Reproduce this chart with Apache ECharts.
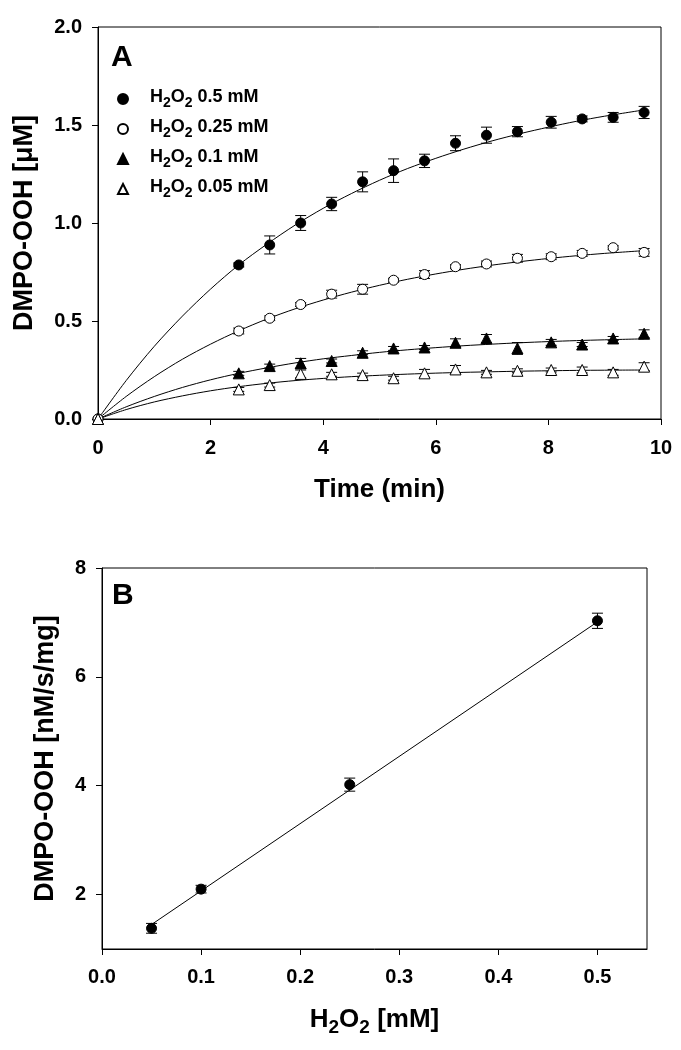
<!DOCTYPE html>
<html><head><meta charset="utf-8">
<script src="https://cdn.jsdelivr.net/npm/echarts@6/dist/echarts.min.js"></script>
<style>html,body{margin:0;padding:0;background:#fff}#c{width:681px;height:1050px}</style>
</head><body><div id="c"></div>
<script>
// ---------- Panel A data ----------
const timeMin = [0, 2.5, 3.05, 3.6, 4.15, 4.7, 5.25, 5.8, 6.35, 6.9, 7.45, 8.05, 8.6, 9.15, 9.7];
const h2o2_050 = [0, 0.786, 0.888, 1.000, 1.097, 1.210, 1.267, 1.317, 1.407, 1.448, 1.466, 1.514, 1.531, 1.539, 1.564];
const err_050  = [0, 0.010, 0.046, 0.038, 0.034, 0.051, 0.060, 0.034, 0.038, 0.041, 0.026, 0.030, 0.015, 0.025, 0.031];
const h2o2_025 = [0, 0.449, 0.514, 0.584, 0.637, 0.662, 0.708, 0.737, 0.777, 0.791, 0.820, 0.828, 0.845, 0.874, 0.850];
const err_025  = [0, 0.015, 0.012, 0.010, 0.020, 0.025, 0.010, 0.020, 0.010, 0.015, 0.020, 0.015, 0.015, 0.010, 0.020];
const h2o2_010 = [0, 0.233, 0.270, 0.284, 0.296, 0.338, 0.360, 0.365, 0.389, 0.411, 0.360, 0.391, 0.380, 0.411, 0.435];
const err_010  = [0, 0.010, 0.010, 0.025, 0.010, 0.010, 0.010, 0.010, 0.020, 0.020, 0.030, 0.015, 0.010, 0.010, 0.020];
const h2o2_005 = [0, 0.151, 0.173, 0.230, 0.228, 0.224, 0.208, 0.233, 0.253, 0.238, 0.246, 0.250, 0.250, 0.238, 0.267];
const err_005  = [0, 0.010, 0.010, 0.020, 0.010, 0.010, 0.010, 0.020, 0.020, 0.010, 0.010, 0.010, 0.015, 0.015, 0.020];
// fitted curves
const fitTime = [0, 0.5, 1, 1.5, 2, 2.5, 3, 3.5, 4, 4.5, 5, 5.5, 6, 6.5, 7, 7.5, 8, 8.5, 9, 9.7];
const fit_050 = [0, 0.196, 0.371, 0.525, 0.663, 0.786, 0.892, 0.989, 1.075, 1.150, 1.218, 1.278, 1.330, 1.377, 1.419, 1.456, 1.489, 1.519, 1.545, 1.577];
const fit_025 = [0, 0.115, 0.216, 0.305, 0.382, 0.450, 0.510, 0.562, 0.607, 0.647, 0.682, 0.713, 0.740, 0.764, 0.785, 0.803, 0.819, 0.833, 0.845, 0.859];
const fit_010 = [0, 0.062, 0.115, 0.161, 0.200, 0.233, 0.261, 0.286, 0.307, 0.324, 0.340, 0.353, 0.364, 0.374, 0.382, 0.389, 0.395, 0.400, 0.404, 0.409];
const fit_005 = [0, 0.048, 0.087, 0.118, 0.144, 0.165, 0.182, 0.196, 0.207, 0.216, 0.223, 0.229, 0.234, 0.238, 0.241, 0.244, 0.246, 0.248, 0.249, 0.250];
const seriesNamesA = ['H2O2 0.5 mM', 'H2O2 0.25 mM', 'H2O2 0.1 mM', 'H2O2 0.05 mM'];
const legendConc = ['0.5 mM', '0.25 mM', '0.1 mM', '0.05 mM'];
const xTicksA = [0, 2, 4, 6, 8, 10];

// ---------- Panel B data ----------
const concB = [0.05, 0.1, 0.25, 0.5];
const rateB = [1.38, 2.10, 4.02, 7.03];
const errB  = [0.09, 0.07, 0.12, 0.14];
const fitConcB = [0.05, 0.5];
const fitRateB = [1.45, 7.01];
const xTicksB = [0, 0.1, 0.2, 0.3, 0.4, 0.5];
const yTicksB = [2, 4, 6, 8];

const FONT = 'Liberation Sans, Arial, sans-serif';
const chart = echarts.init(document.getElementById('c'), null, {renderer: 'canvas'});

function zip(x, y, e) { return x.map((v, i) => e ? [v, y[i], e[i]] : [v, y[i]]); }

function errRender(params, api) {
  const x = api.value(0), y = api.value(1), e = api.value(2);
  if (!e) return null;
  const t = api.coord([x, y + e]), b = api.coord([x, y - e]);
  const hw = 5.5;
  const st = {stroke: '#000', lineWidth: 1};
  return {type: 'group', children: [
    {type: 'line', shape: {x1: t[0], y1: t[1], x2: b[0], y2: b[1]}, style: st},
    {type: 'line', shape: {x1: t[0] - hw, y1: t[1], x2: t[0] + hw, y2: t[1]}, style: st},
    {type: 'line', shape: {x1: b[0] - hw, y1: b[1], x2: b[0] + hw, y2: b[1]}, style: st}
  ]};
}

const axisCommon = {
  axisLine: {show: true, onZero: false, lineStyle: {color: '#000', width: 1}},
  axisTick: {show: true, inside: false, length: 6, lineStyle: {color: '#000', width: 1}},
  splitLine: {show: false},
  axisLabel: {color: '#000', fontFamily: FONT, fontWeight: 'bold', fontSize: 20}
};

const rich = {
  b: {fontFamily: FONT, fontWeight: 'bold', fontSize: 18, lineHeight: 22, verticalAlign: 'top', color: '#000'},
  s: {fontFamily: FONT, fontWeight: 'bold', fontSize: 14, lineHeight: 8, verticalAlign: 'bottom', color: '#000'}
};
const richBig = {
  b: {fontFamily: FONT, fontWeight: 'bold', fontSize: 26, lineHeight: 30, verticalAlign: 'top', color: '#000'},
  s: {fontFamily: FONT, fontWeight: 'bold', fontSize: 19, lineHeight: 10, verticalAlign: 'bottom', color: '#000'}
};

const symA = [
  {symbol: 'circle', size: 10, color: '#000', border: '#000'},
  {symbol: 'circle', size: 10, color: '#fff', border: '#000'},
  {symbol: 'triangle', size: 11, color: '#000', border: '#000'},
  {symbol: 'triangle', size: 11, color: '#fff', border: '#000'}
];
const valsA = [h2o2_050, h2o2_025, h2o2_010, h2o2_005];
const errsA = [err_050, err_025, err_010, err_005];
const fitsA = [fit_050, fit_025, fit_010, fit_005];

const series = [];
fitsA.forEach((f, i) => {
  series.push({type: 'line', xAxisIndex: 0, yAxisIndex: 0, data: zip(fitTime, f), smooth: 0.3,
    showSymbol: false, symbol: 'none', lineStyle: {color: '#000', width: 1}, z: 1, silent: true});
});
valsA.forEach((v, i) => {
  series.push({type: 'custom', xAxisIndex: 0, yAxisIndex: 0, data: zip(timeMin, v, errsA[i]),
    renderItem: errRender, encode: {x: 0, y: 1}, z: 2, silent: true});
});
valsA.forEach((v, i) => {
  const s = symA[i];
  series.push({type: 'scatter', name: seriesNamesA[i], xAxisIndex: 0, yAxisIndex: 0, data: zip(timeMin, v),
    symbol: s.symbol, symbolSize: s.size, clip: false,
    itemStyle: {color: s.color, borderColor: s.border, borderWidth: 1, opacity: 1}, z: 3 + i});
});
// Panel B
series.push({type: 'line', xAxisIndex: 1, yAxisIndex: 1, data: zip(fitConcB, fitRateB), showSymbol: false,
  symbol: 'none', lineStyle: {color: '#000', width: 1}, z: 1, silent: true});
series.push({type: 'custom', xAxisIndex: 1, yAxisIndex: 1, data: zip(concB, rateB, errB),
  renderItem: errRender, encode: {x: 0, y: 1}, z: 2, silent: true});
series.push({type: 'scatter', name: 'rateB', xAxisIndex: 1, yAxisIndex: 1, data: zip(concB, rateB),
  symbol: 'circle', symbolSize: 10, itemStyle: {color: '#000', borderColor: '#000', borderWidth: 1, opacity: 1}, z: 3});

const option = {
  backgroundColor: '#fff',
  animation: false,
  grid: [
    {left: 98, top: 27, width: 563, height: 392, show: true, borderColor: '#000', borderWidth: 1, backgroundColor: 'transparent'},
    {left: 102, top: 568, width: 545, height: 381, show: true, borderColor: '#000', borderWidth: 1, backgroundColor: 'transparent'}
  ],
  xAxis: [
    Object.assign({}, axisCommon, {type: 'value', gridIndex: 0, min: 0, max: 10, interval: 2,
      axisLabel: Object.assign({}, axisCommon.axisLabel, {margin: 19, customValues: xTicksA}),
      axisTick: Object.assign({}, axisCommon.axisTick, {customValues: xTicksA}),
      name: 'Time (min)', nameLocation: 'middle', nameGap: 58,
      nameTextStyle: {fontFamily: FONT, fontWeight: 'bold', fontSize: 26, color: '#000'}}),
    Object.assign({}, axisCommon, {type: 'value', gridIndex: 1, min: 0, max: 0.55,
      axisLabel: Object.assign({}, axisCommon.axisLabel, {margin: 18, customValues: xTicksB, formatter: v => v.toFixed(1)}),
      axisTick: Object.assign({}, axisCommon.axisTick, {customValues: xTicksB}),
      name: '{b|H}{s|2}{b|O}{s|2}{b| [mM]}', nameLocation: 'middle', nameGap: 58,
      nameTextStyle: {rich: richBig}})
  ],
  yAxis: [
    Object.assign({}, axisCommon, {type: 'value', gridIndex: 0, min: 0, max: 2, interval: 0.5,
      axisLabel: Object.assign({}, axisCommon.axisLabel, {margin: 16, formatter: v => v.toFixed(1)}),
      name: 'DMPO-OOH [μM]', nameLocation: 'middle', nameGap: 60, nameRotate: 90,
      nameTextStyle: {fontFamily: FONT, fontWeight: 'bold', fontSize: 27, color: '#000'}}),
    Object.assign({}, axisCommon, {type: 'value', gridIndex: 1, min: 1, max: 8,
      axisLabel: Object.assign({}, axisCommon.axisLabel, {margin: 16, customValues: yTicksB}),
      axisTick: Object.assign({}, axisCommon.axisTick, {customValues: yTicksB}),
      name: 'DMPO-OOH [nM/s/mg]', nameLocation: 'middle', nameGap: 43, nameRotate: 90,
      nameTextStyle: {fontFamily: FONT, fontWeight: 'bold', fontSize: 27, color: '#000'}})
  ],
  legend: {
    data: seriesNamesA, orient: 'vertical', left: 112, top: 83, itemWidth: 10, itemHeight: 10, itemGap: 8,
    selectedMode: false,
    formatter: name => '{b|H}{s|2}{b|O}{s|2}{b| ' + legendConc[seriesNamesA.indexOf(name)] + '}',
    textStyle: {rich: rich, padding: [0, 0, 0, 17]}
  },
  graphic: [
    {type: 'text', x: 111, y: 58, style: {text: 'A', font: 'bold 30px ' + FONT, fill: '#000', verticalAlign: 'middle'}},
    {type: 'text', x: 112, y: 596, style: {text: 'B', font: 'bold 30px ' + FONT, fill: '#000', verticalAlign: 'middle'}}
  ],
  series: series
};
chart.setOption(option);
</script>
</body></html>
